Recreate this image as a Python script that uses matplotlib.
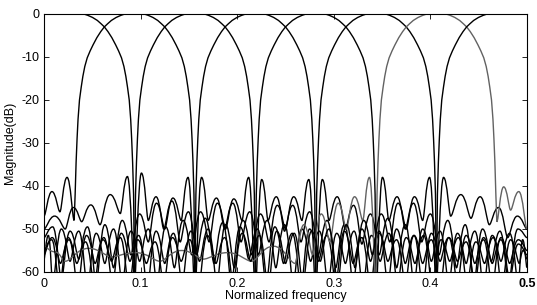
# -*- coding: utf8 -*-
"""
8-band filter bank magnitude response (dB) over normalized frequency 0..0.5
"""
import matplotlib
matplotlib.use('Agg')
import matplotlib.pyplot as plt
from matplotlib.path import Path
from matplotlib.patches import PathPatch

# band centres (normalized frequency)
CENTERS = [0.03125, 0.09375, 0.15625, 0.21875, 0.28125, 0.34375, 0.40625, 0.46875]
COLORS = ['#000000'] * 6 + ['#626262', '#000000']

# main lobe, one side: offset from centre and level (dB)
PROFILE_OFF = [0.0, 0.010, 0.014, 0.019, 0.024, 0.028, 0.03125, 0.035, 0.039, 0.043,
               0.046, 0.049, 0.0515, 0.0535, 0.0552, 0.057, 0.0585, 0.0595, 0.0605, 0.0615]
PROFILE_DB = [0.0, 0.0, -0.3, -0.8, -1.5, -2.3, -3.0, -4.1, -5.5, -7.2,
              -8.6, -10.2, -12.2, -14.5, -17.0, -20.0, -24.5, -29.0, -34.5, -42.0]

# side lobes: troughs (freq, dB) listed from the main-lobe null outwards, peaks between them
b0_r_f = [0.09375, 0.108, 0.124, 0.141, 0.158, 0.176, 0.194, 0.212, 0.230, 0.248, 0.266, 0.284,
          0.302, 0.320, 0.338, 0.356, 0.374, 0.392, 0.410, 0.428, 0.446, 0.464, 0.482, 0.500]
b0_r_t = [-62, -48, -50, -53, -56, -58, -63, -57, -63, -58, -64, -57.5,
          -63, -58, -64, -57.5, -63, -58, -64, -57.5, -63, -58, -62, -56]
b0_r_p = [-37, -42.5, -43.5, -46, -47.5, -48.5, -49.5, -50, -49.5, -51, -50, -51.5,
          -50.5, -52, -51, -52.5, -51.5, -52.5, -52, -53, -52, -52.5, -53.5]

b1_l_f = [0.03125, 0.0165, 0.0]
b1_l_t = [-48, -46, -47]
b1_l_p = [-38, -41.3]
b1_r_f = [0.15625, 0.170, 0.187, 0.204, 0.222, 0.240, 0.258, 0.276, 0.294, 0.312, 0.330,
          0.348, 0.366, 0.384, 0.402, 0.420, 0.438, 0.456, 0.474, 0.492, 0.500]
b1_r_t = [-65, -48, -50, -53, -56, -59, -63, -57.5, -63, -58, -64,
          -57.5, -63, -58, -64, -57.5, -63, -58, -64, -58, -57]
b1_r_p = [-38, -42.8, -44, -46, -48, -49, -50, -50.5, -51, -50.5,
          -51.5, -51, -52, -51.5, -52.5, -52, -53, -52, -52.5, -55]

b2_l_f = [0.09375, 0.079, 0.058, 0.039, 0.022, 0.0]
b2_l_t = [-62, -46.4, -49, -48.3, -50, -50]
b2_l_p = [-37.8, -42, -44.4, -45, -47]
b2_r_f = [0.21875, 0.232, 0.249, 0.266, 0.284, 0.302, 0.320, 0.338, 0.356,
          0.374, 0.392, 0.410, 0.428, 0.446, 0.464, 0.482, 0.500]
b2_r_t = [-65, -48, -50.5, -53, -56, -59, -63, -57.5, -63, -58, -64, -57.5, -63, -58, -64, -58, -55]
b2_r_p = [-38.5, -42.5, -44.5, -46, -48, -49, -50, -50.5, -50, -51.5, -51, -52,
          -51.5, -52.5, -52, -52.5]

b3_l_f = [0.15625, 0.142, 0.125, 0.108, 0.090, 0.072, 0.054, 0.036, 0.018, 0.0]
b3_l_t = [-65, -48, -50, -53, -56, -59, -63, -57, -62, -52]
b3_l_p = [-38, -42.8, -44, -46.5, -48, -49, -49.5, -50.5, -49.5]
b3_r_f = [0.28125, 0.295, 0.312, 0.329, 0.347, 0.365, 0.383, 0.401, 0.419, 0.437,
          0.455, 0.473, 0.491, 0.500]
b3_r_t = [-65, -48, -50, -53.5, -56, -59, -63, -57.5, -63, -58, -64, -57.5, -63, -59]
b3_r_p = [-38.5, -42.5, -44.5, -46.5, -47.5, -49, -50, -50.5, -51, -50.5, -51.5, -51, -52.5]

b4_l_f = [0.21875, 0.205, 0.188, 0.171, 0.153, 0.135, 0.117, 0.099, 0.081, 0.063,
          0.045, 0.027, 0.009, 0.0]
b4_l_t = [-65, -48, -50, -53, -56, -59, -63, -57.5, -63, -58, -64, -57.5, -63, -57]
b4_l_p = [-38, -43, -44, -46, -48, -49.5, -50, -50.5, -50, -51, -50.5, -50, -51.5]
b4_r_f = [0.34375, 0.357, 0.374, 0.391, 0.409, 0.427, 0.445, 0.463, 0.481, 0.500]
b4_r_t = [-65, -48, -50, -53, -56, -59, -63, -57.5, -63, -52]
b4_r_p = [-38, -42.5, -44, -46.5, -48, -49, -50, -50.5, -50]

b5_l_f = [0.28125, 0.267, 0.250, 0.233, 0.215, 0.197, 0.179, 0.161, 0.143, 0.125,
          0.107, 0.089, 0.071, 0.053, 0.035, 0.017, 0.0]
b5_l_t = [-65, -48, -50, -53, -56, -59, -63, -57.5, -63, -58, -64, -57.5, -63, -58, -64, -58, -56]
b5_l_p = [-38.5, -42.5, -44.5, -46.5, -48, -49, -50, -50.5, -51, -50.5,
          -51.5, -51, -52, -51.5, -52.5, -52]
b5_r_f = [0.40625, 0.421, 0.442, 0.461, 0.480, 0.500]
b5_r_t = [-62, -47, -47.5, -49, -52, -50]
b5_r_p = [-38, -42, -42.5, -45, -47]

b6_l_f = [0.34375, 0.330, 0.313, 0.296, 0.278, 0.260, 0.215, 0.165, 0.120, 0.070, 0.022, 0.0]
b6_l_t = [-65, -48, -50, -53, -56, -58, -57.5, -57, -57.5, -56.5, -57.5, -54]
b6_l_p = [-38, -42.5, -44, -46.5, -49, -54, -55.5, -55, -55.5, -54.5, -55.3]
b6_r_f = [0.46875, 0.483, 0.500]
b6_r_t = [-48.3, -45.6, -50]
b6_r_p = [-40.2, -41.3]

b7_l_f = [0.40625, 0.392, 0.375, 0.358, 0.340, 0.322, 0.304, 0.286, 0.268, 0.250, 0.232, 0.214,
          0.196, 0.178, 0.160, 0.142, 0.124, 0.106, 0.088, 0.070, 0.052, 0.034, 0.016, 0.0]
b7_l_t = [-65, -48, -50, -53, -56, -59, -63, -57.5, -63, -58, -64, -57.5,
          -63, -58, -64, -57.5, -63, -58, -64, -57.5, -63, -58, -64, -55]
b7_l_p = [-38, -42.5, -44, -46.5, -48, -49, -50, -50.5, -51, -50.5, -51.5, -51,
          -52, -51.5, -52.5, -52, -53, -52.5, -52, -52.5, -53, -52, -52.5]

LEFT = [None, (b1_l_f, b1_l_t, b1_l_p), (b2_l_f, b2_l_t, b2_l_p), (b3_l_f, b3_l_t, b3_l_p),
        (b4_l_f, b4_l_t, b4_l_p), (b5_l_f, b5_l_t, b5_l_p), (b6_l_f, b6_l_t, b6_l_p),
        (b7_l_f, b7_l_t, b7_l_p)]
RIGHT = [(b0_r_f, b0_r_t, b0_r_p), (b1_r_f, b1_r_t, b1_r_p), (b2_r_f, b2_r_t, b2_r_p),
         (b3_r_f, b3_r_t, b3_r_p), (b4_r_f, b4_r_t, b4_r_p), (b5_r_f, b5_r_t, b5_r_p),
         (b6_r_f, b6_r_t, b6_r_p), None]

XTICKS = [0, 0.1, 0.2, 0.3, 0.4, 0.5]
XTICK_LABELS = ['0', '0.1', '0.2', '0.3', '0.4', '0.5']
YTICKS = [0, -10, -20, -30, -40, -50, -60]
YTICK_LABELS = ['0', '-10', '-20', '-30', '-40', '-50', '-60']


def lobes(fs, ts, ps, verts, codes):
    # each side lobe: smooth rise from one trough to the peak (midway) and down to the next
    for i in range(len(ps)):
        x0, y0, x1, y1 = fs[i], ts[i], fs[i + 1], ts[i + 1]
        xm = (x0 + x1) / 2.0
        h = xm - x0
        verts += [(x0 + 0.25 * h, y0), (xm - 0.5 * h, ps[i]), (xm, ps[i]),
                  (xm + 0.5 * h, ps[i]), (x1 - 0.25 * h, y1), (x1, y1)]
        codes += [Path.CURVE4] * 6


def band_path(k):
    c = CENTERS[k]
    verts, codes = [], []
    left, right = LEFT[k], RIGHT[k]
    if left is None:
        verts.append((0.0, 0.0))
        codes.append(Path.MOVETO)
    else:
        fs, ts, ps = left[0][::-1], left[1][::-1], left[2][::-1]
        verts.append((fs[0], ts[0]))
        codes.append(Path.MOVETO)
        lobes(fs, ts, ps, verts, codes)
        for off, db in zip(PROFILE_OFF[::-1], PROFILE_DB[::-1]):
            verts.append((c - off, db))
            codes.append(Path.LINETO)
    if right is None:
        verts.append((0.5, 0.0))
        codes.append(Path.LINETO)
        return Path(verts, codes)
    for off, db in zip(PROFILE_OFF[1:], PROFILE_DB[1:]):
        verts.append((c + off, db))
        codes.append(Path.LINETO)
    fs, ts, ps = right
    verts.append((fs[0], ts[0]))
    codes.append(Path.LINETO)
    lobes(fs, ts, ps, verts, codes)
    return Path(verts, codes)


def main():
    plt.rcParams['font.family'] = ['Liberation Sans', 'DejaVu Sans']
    plt.rcParams['axes.unicode_minus'] = False
    fig = plt.figure(figsize=(5.37, 3.05), dpi=100)
    ax = fig.add_axes([0.0819, 0.1082, 0.8995, 0.8459])

    for k in range(len(CENTERS)):
        patch = PathPatch(band_path(k), fill=False, edgecolor=COLORS[k], lw=1.0)
        ax.add_patch(patch)

    ax.set_xlim(0, 0.5)
    ax.set_ylim(-60, 0)
    ax.set_xticks(XTICKS)
    ax.set_xticklabels(XTICK_LABELS)
    ax.set_yticks(YTICKS)
    ax.set_yticklabels(YTICK_LABELS)
    ax.get_xticklabels()[-1].set_fontweight('bold')
    ax.tick_params(direction='in', top=True, right=True, length=3.5, width=0.6,
                   labelsize=9, colors='black')
    ax.tick_params(axis='x', pad=4)
    ax.tick_params(axis='y', pad=3)
    for s in ax.spines.values():
        s.set_linewidth(0.8)
    ax.set_xlabel('Normalized frequency', fontsize=9, labelpad=0)
    ax.set_ylabel('Magnitude(dB)', fontsize=9, labelpad=4)
    fig.savefig('out.png', dpi=100)


if __name__ == '__main__':
    main()
